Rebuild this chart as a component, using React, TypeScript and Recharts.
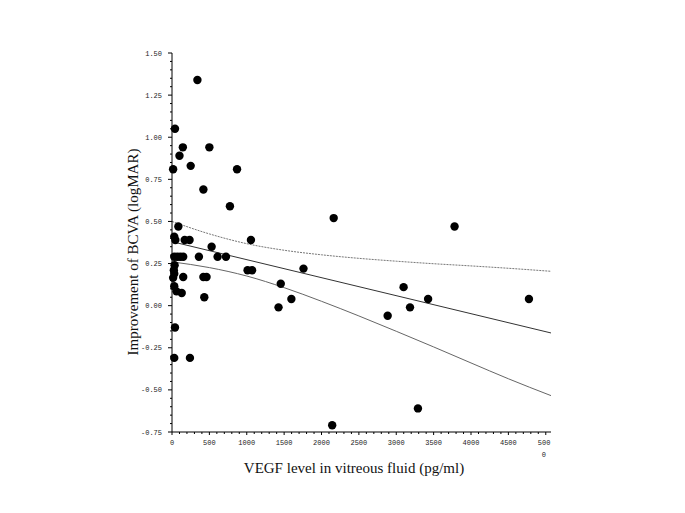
import { ComposedChart, Scatter, Line, XAxis, YAxis } from "recharts";

// vitreous VEGF (pg/ml) and BCVA improvement (logMAR), one entry per eye
const vegf = [
  340, 40, 145, 500, 100, 250, 15, 870, 420, 775,
  85, 30, 45, 170, 235, 1056, 530, 30, 70, 110,
  150, 360, 610, 722, 35, 25, 1011, 1071, 1759, 30,
  150, 420, 462, 15, 1455, 30, 60, 130, 432, 1597,
  1425, 40, 30, 240, 2163, 3780, 3098, 3426, 3184, 2885,
  4775, 3290, 2143,
];
const bcvaGain = [
  1.34, 1.05, 0.94, 0.94, 0.89, 0.83, 0.81, 0.81, 0.69, 0.59,
  0.47, 0.41, 0.39, 0.39, 0.39, 0.39, 0.35, 0.29, 0.29, 0.29,
  0.29, 0.29, 0.29, 0.29, 0.24, 0.21, 0.21, 0.21, 0.22, 0.19,
  0.17, 0.17, 0.17, 0.165, 0.13, 0.115, 0.085, 0.075, 0.05, 0.04,
  -0.01, -0.13, -0.31, -0.31, 0.52, 0.47, 0.11, 0.04, -0.01, -0.06,
  0.04, -0.61, -0.71,
];

// regression line and its 95% confidence band, read along the x axis
const fitVegf = [0, 5070];
const fitGain = [0.38, -0.162];
const ciVegf = [0, 500, 1000, 1500, 2000, 2500, 3000, 3500, 4000, 4500, 5070];
const ciUpper = [0.5, 0.426, 0.368, 0.329, 0.302, 0.281, 0.264, 0.249, 0.236, 0.222, 0.204];
const ciLower = [0.26, 0.226, 0.176, 0.107, 0.026, -0.061, -0.152, -0.245, -0.34, -0.434, -0.534];

const xTickLabels = [0, 500, 1000, 1500, 2000, 2500, 3000, 3500, 4000, 4500, 5000];
const yTickLabels = [-0.75, -0.5, -0.25, 0, 0.25, 0.5, 0.75, 1.0, 1.25, 1.5];

const xTicks = Array.from({ length: 51 }, (_, i) => i * 100);
const yTicks = Array.from({ length: 46 }, (_, i) => Math.round((-0.75 + i * 0.05) * 100) / 100);

const points = vegf.map((x, i) => ({ x, y: bcvaGain[i] }));
const fit = fitVegf.map((x, i) => ({ x, y: fitGain[i] }));
const upper = ciVegf.map((x, i) => ({ x, y: ciUpper[i] }));
const lower = ciVegf.map((x, i) => ({ x, y: ciLower[i] }));

const tickFont = { fontFamily: "'Liberation Mono', 'DejaVu Sans Mono', monospace", fontSize: 7, fill: "#222" };
const titleFont = { fontFamily: "'Liberation Serif', 'DejaVu Serif', serif", fontSize: 15, fill: "#111" };

const XTick = (props: any) => {
  const { x, y, payload } = props;
  const v = payload.value;
  const major = xTickLabels.includes(v);
  return (
    <g>
      <line x1={x} y1={y} x2={x} y2={y + (major ? 3 : 2)} stroke="#000" />
      {major && v !== 5000 && (
        <text x={x} y={y + 13} textAnchor="middle" {...tickFont}>
          {v}
        </text>
      )}
      {v === 5000 && (
        <g>
          <text x={x - 8} y={y + 13} textAnchor="start" {...tickFont}>
            500
          </text>
          <text x={x - 2} y={y + 25} textAnchor="middle" {...tickFont}>
            0
          </text>
        </g>
      )}
    </g>
  );
};

const YTick = (props: any) => {
  const { x, y, payload } = props;
  const v = payload.value;
  const major = yTickLabels.some((t) => Math.abs(t - v) < 1e-6);
  return (
    <g>
      <line x1={x} y1={y} x2={x - (major ? 4 : 2)} y2={y} stroke="#000" />
      {major && (
        <text x={x - 10} y={y + 2.5} textAnchor="end" {...tickFont}>
          {v.toFixed(2)}
        </text>
      )}
    </g>
  );
};

export default function App() {
  return (
    <div style={{ position: "absolute", left: 0, top: 0, width: 685, height: 513, background: "#fff" }}>
      <ComposedChart width={685} height={513} margin={{ top: 53, right: 134, bottom: 51, left: 132 }}>
        <XAxis
          type="number"
          dataKey="x"
          domain={[0, 5070]}
          ticks={xTicks}
          interval={0}
          tick={<XTick />}
          tickLine={false}
          tickSize={0}
          tickMargin={0}
          axisLine={{ stroke: "#000" }}
          height={30}
        />
        <YAxis
          type="number"
          dataKey="y"
          domain={[-0.75, 1.5]}
          ticks={yTicks}
          interval={0}
          tick={<YTick />}
          tickLine={false}
          tickSize={0}
          tickMargin={0}
          axisLine={{ stroke: "#000" }}
          width={40}
        />
        <Line data={upper} dataKey="y" type="monotone" stroke="#777" strokeWidth={1} strokeDasharray="2 1" dot={false} activeDot={false} isAnimationActive={false} />
        <Line data={lower} dataKey="y" type="monotone" stroke="#666" strokeWidth={1} dot={false} activeDot={false} isAnimationActive={false} />
        <Line data={fit} dataKey="y" type="linear" stroke="#333" strokeWidth={1} dot={false} activeDot={false} isAnimationActive={false} />
        <Scatter
          data={points}
          dataKey="y"
          isAnimationActive={false}
          shape={(p: any) => <circle cx={p.cx} cy={p.cy} r={4.2} fill="#000" />}
        />
        <text x={133} y={252} transform="rotate(-90 133 252)" textAnchor="middle" dominantBaseline="central" {...titleFont}>
          Improvement of BCVA (logMAR)
        </text>
        <text x={354} y={468} textAnchor="middle" dominantBaseline="central" {...titleFont}>
          VEGF level in vitreous fluid (pg/ml)
        </text>
      </ComposedChart>
    </div>
  );
}
